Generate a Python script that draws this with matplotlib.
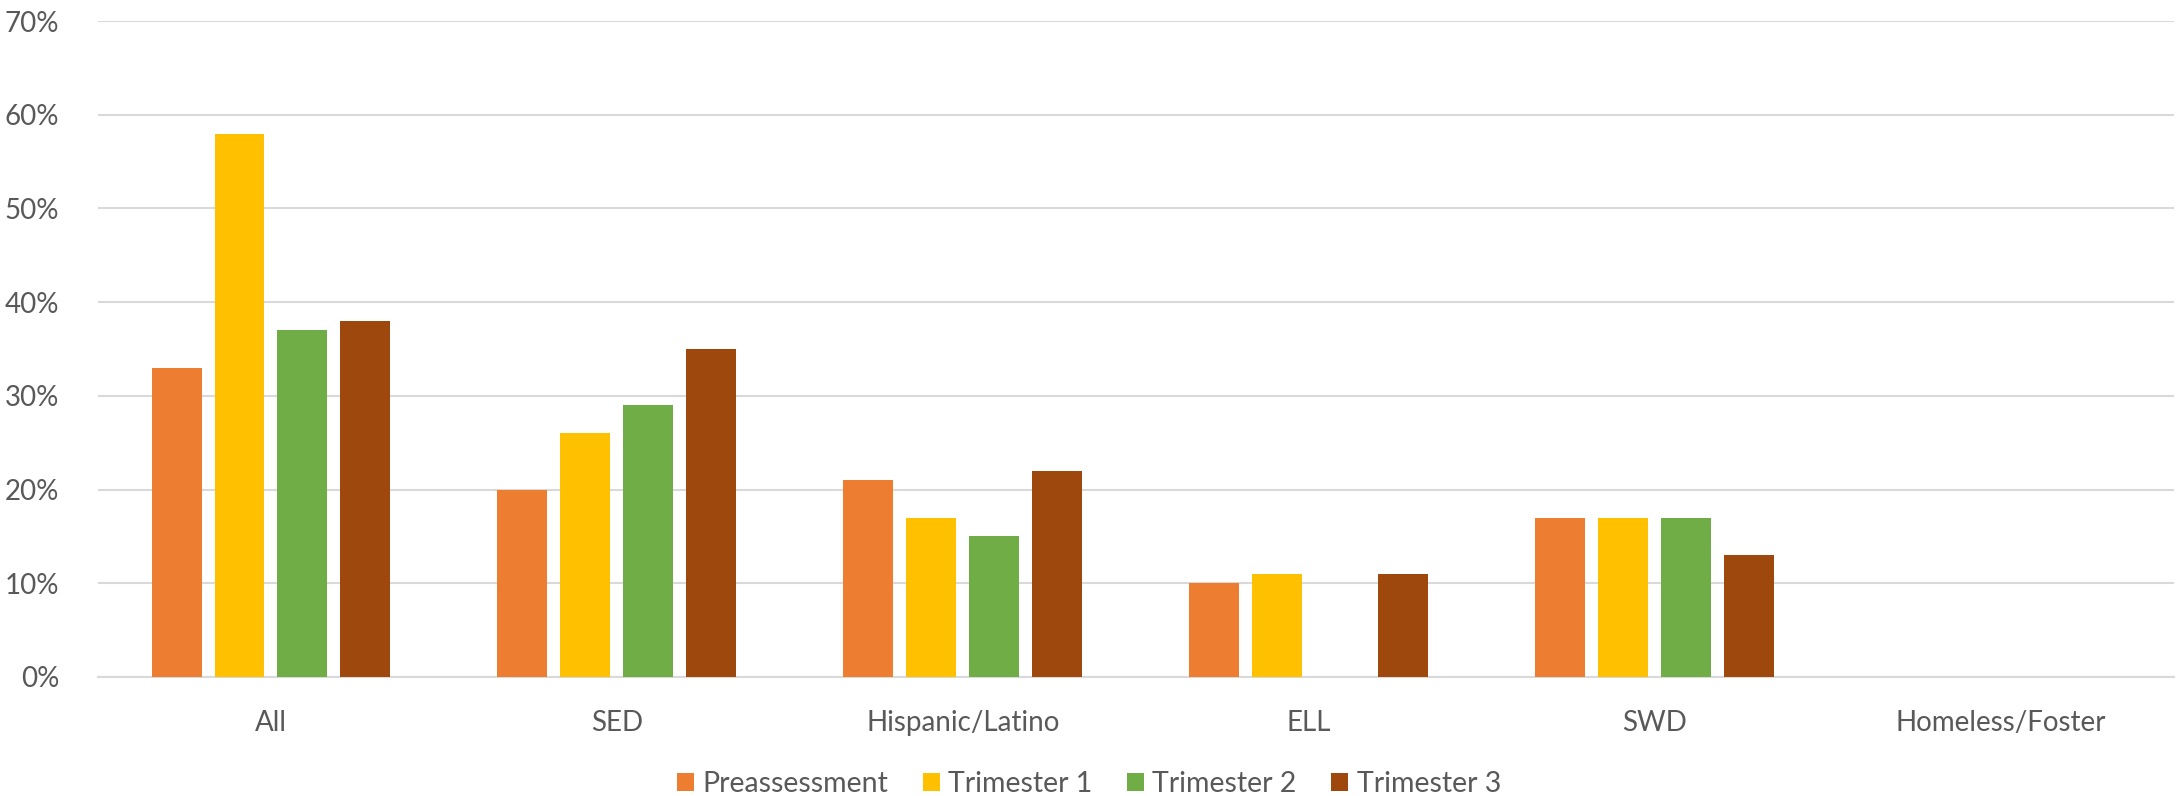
import numpy as np
import matplotlib
matplotlib.use("Agg")
import matplotlib.pyplot as plt
from matplotlib.ticker import PercentFormatter

# percent of students
groups = ["All", "SED", "Hispanic/Latino", "ELL", "SWD", "Homeless/Foster"]
pre = [33, 20, 21, 10, 17, np.nan]
tri1 = [58, 26, 17, 11, 17, np.nan]
tri2 = [37, 29, 15, np.nan, 17, np.nan]
tri3 = [38, 35, 22, 11, 13, np.nan]
series_names = ["Preassessment", "Trimester 1", "Trimester 2", "Trimester 3"]
colors = ["#ED7D31", "#FFC000", "#70AD47", "#9E480E"]

plt.rcParams["font.family"] = ["Lato", "DejaVu Sans"]
txt = "#595959"

fig = plt.figure(figsize=(21.78, 7.96), dpi=100)
ax = fig.add_axes([0.045, 0.1495, 0.953, 0.824])

x = np.arange(len(groups))
w = 0.1445
step = 0.182
for i, (vals, name, c) in enumerate(zip([pre, tri1, tri2, tri3], series_names, colors)):
    ax.bar(x + (i - 1.5) * step, vals, w, color=c, label=name, zorder=3)

ax.set_xlim(-0.5, len(groups) - 0.5)
ax.set_ylim(0, 70)
ax.set_yticks(range(0, 71, 10))
ax.yaxis.set_major_formatter(PercentFormatter(decimals=0))
ax.set_xticks(x)
ax.set_xticklabels(groups)
ax.grid(axis="y", color="#D9D9D9", linewidth=1.5, zorder=0)
for s in ["top", "right", "left"]:
    ax.spines[s].set_visible(False)
ax.spines["bottom"].set_color("#D9D9D9")
ax.spines["bottom"].set_linewidth(1.5)
ax.tick_params(length=0, labelsize=20, colors=txt)
ax.tick_params(axis="x", pad=24)
ax.tick_params(axis="y", pad=28)

leg = fig.legend(loc="lower center", bbox_to_anchor=(0.5, -0.019), ncol=4, frameon=False,
                 fontsize=20.5, handlelength=0.6, handleheight=0.6, handletextpad=0.3,
                 columnspacing=1.2, borderpad=0)
for t in leg.get_texts():
    t.set_color(txt)

fig.savefig("out.png", dpi=100)
